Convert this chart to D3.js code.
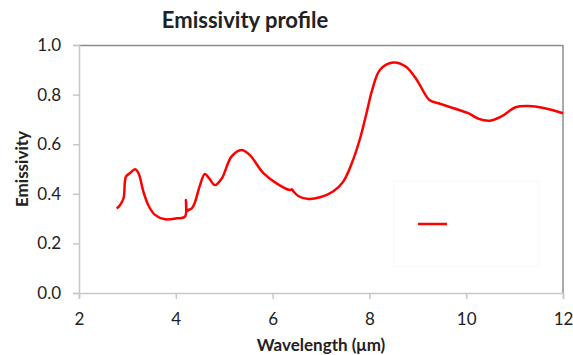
<!DOCTYPE html>
<html>
<head>
<meta charset="utf-8">
<script src="https://cdn.jsdelivr.net/npm/d3@7"></script>
<style>
  body { margin: 0; background: #fff; }
  text { font-family: Lato, "Open Sans", sans-serif; fill: #222; }
</style>
</head>
<body>
<svg id="chart"></svg>
<script>
// wavelength (um) and emissivity
const wavelength = [2.78, 2.85, 2.92, 2.97, 3.05, 3.16, 3.23, 3.33, 3.43, 3.57, 3.78, 4.02, 4.19, 4.21, 4.23, 4.26, 4.33, 4.40, 4.49, 4.60, 4.69, 4.81, 4.95, 5.15, 5.36, 5.53, 5.81, 6.08, 6.36, 6.40, 6.43, 6.53, 6.74, 6.98, 7.25, 7.46, 7.63, 7.81, 7.94, 8.06, 8.22, 8.49, 8.75, 8.98, 9.24, 9.43, 9.74, 10.04, 10.26, 10.49, 10.72, 11.02, 11.28, 11.62, 12.0]
const emissivity = [0.341, 0.355, 0.382, 0.469, 0.483, 0.499, 0.483, 0.409, 0.355, 0.315, 0.297, 0.301, 0.308, 0.375, 0.33, 0.335, 0.341, 0.368, 0.429, 0.480, 0.462, 0.435, 0.462, 0.550, 0.577, 0.556, 0.483, 0.442, 0.415, 0.418, 0.41, 0.391, 0.379, 0.386, 0.409, 0.449, 0.52, 0.625, 0.725, 0.82, 0.9, 0.929, 0.913, 0.859, 0.778, 0.765, 0.745, 0.725, 0.702, 0.695, 0.711, 0.749, 0.754, 0.745, 0.725]
const xTicks = [2, 4, 6, 8, 10, 12]
const yTicks = [0, 0.2, 0.4, 0.6, 0.8, 1.0]

const W = 573, H = 355
const margin = {top: 45, right: 10, bottom: 62, left: 79}
const width = W - margin.left - margin.right
const height = H - margin.top - margin.bottom

const svg = d3.select('#chart')
  .attr('width', W)
  .attr('height', H)

const g = svg.append('g')
  .attr('transform', 'translate(' + margin.left + ',' + margin.top + ')')

const x = d3.scaleLinear().domain([2, 12]).range([0, width])
const y = d3.scaleLinear().domain([0, 1]).range([height, 0])

// frame: top/right darker, axes lighter
g.append('line').attr('x1', 0).attr('x2', width).attr('y1', 0.5).attr('y2', 0.5)
  .attr('stroke', '#8c8c8c').attr('stroke-width', 1.5)
g.append('line').attr('x1', width).attr('x2', width).attr('y1', 0).attr('y2', height)
  .attr('stroke', '#8c8c8c').attr('stroke-width', 1.5)

const xAxis = g.append('g')
  .attr('transform', 'translate(0,' + height + ')')
  .call(d3.axisBottom(x).tickValues(xTicks).tickFormat(d3.format('d')).tickSize(6).tickPadding(14))
const yAxis = g.append('g')
  .call(d3.axisLeft(y).tickValues(yTicks).tickFormat(d3.format('.1f')).tickSize(6).tickPadding(12))

;[xAxis, yAxis].forEach(a => {
  a.select('.domain').attr('stroke', '#c8c8c8').attr('stroke-width', 1.5)
  a.selectAll('.tick line').attr('stroke', '#c8c8c8').attr('stroke-width', 1.5)
  a.selectAll('.tick text').style('font-size', '17px').style('font-family', 'Lato, sans-serif').attr('fill', '#222')
})

// legend box (no label)
const legend = svg.append('g')
legend.append('rect')
  .attr('x', 394).attr('y', 181).attr('width', 145).attr('height', 85)
  .attr('fill', '#fff').attr('stroke', '#f8f8f8')
legend.append('line')
  .attr('x1', 418).attr('x2', 447).attr('y1', 224).attr('y2', 224)
  .attr('stroke', '#ff0000').attr('stroke-width', 2.5)

const data = wavelength.map((w, i) => [w, emissivity[i]])

const line = d3.line()
  .x(d => x(d[0]))
  .y(d => y(d[1]))
  .curve(d3.curveCatmullRom.alpha(0.5))

g.append('path')
  .datum(data)
  .attr('fill', 'none')
  .attr('stroke', '#ff0000')
  .attr('stroke-width', 2.5)
  .attr('stroke-linejoin', 'round')
  .attr('d', line)

// titles
svg.append('text')
  .attr('x', 245).attr('y', 28)
  .attr('text-anchor', 'middle')
  .style('font-size', '22px').style('font-weight', 'bold')
  .text('Emissivity profile')

svg.append('text')
  .attr('x', margin.left + width / 2).attr('y', 351)
  .attr('text-anchor', 'middle')
  .style('font-size', '17px').style('font-weight', 'bold')
  .text('Wavelength (μm)')

svg.append('text')
  .attr('transform', 'translate(28,' + (margin.top + height / 2) + ') rotate(-90)')
  .attr('text-anchor', 'middle')
  .style('font-size', '17px').style('font-weight', 'bold')
  .text('Emissivity')
</script>
</body>
</html>
